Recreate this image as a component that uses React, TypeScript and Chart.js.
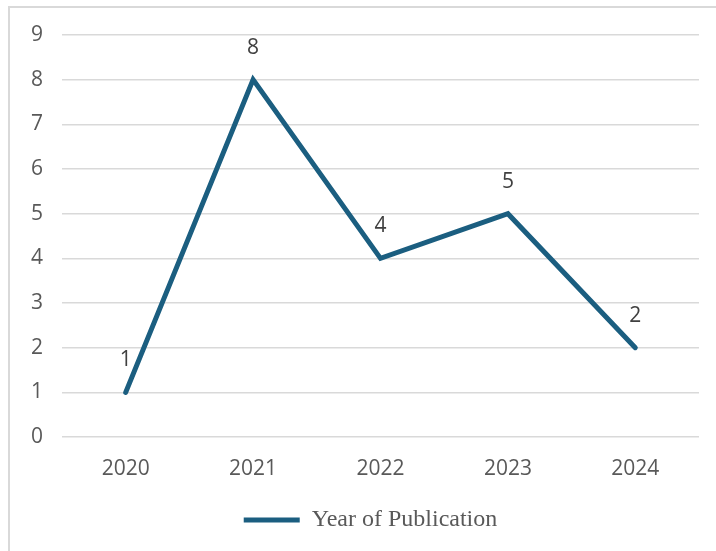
import React, { useEffect, useRef } from "react";
import { Chart, registerables } from "chart.js";

Chart.register(...registerables);

const categories = ["2020", "2021", "2022", "2023", "2024"];
const seriesName = "Year of Publication";
const publications = [1, 8, 4, 5, 2];
const yTicks = [0, 1, 2, 3, 4, 5, 6, 7, 8, 9];

const LINE = "#1b5e80";
const GRID = "#d9d9d9";
const TICK = "#595959";

const dataLabels = {
  id: "dataLabels",
  afterDatasetsDraw(chart: any) {
    const ctx = chart.ctx;
    ctx.save();
    ctx.font = "21px 'Open Sans'";
    ctx.fillStyle = "#404040";
    ctx.textAlign = "center";
    ctx.textBaseline = "middle";
    chart.data.datasets.forEach((ds: any, i: number) => {
      const meta = chart.getDatasetMeta(i);
      meta.data.forEach((pt: any, j: number) => {
        ctx.fillText(String(ds.data[j]), pt.x, pt.y - 32);
      });
    });
    ctx.restore();
  },
};

export default function App() {
  const ref = useRef<HTMLCanvasElement>(null);
  useEffect(() => {
    if (!ref.current) return;
    const chart = new Chart(ref.current, {
      type: "line",
      data: {
        labels: categories,
        datasets: [
          {
            label: seriesName,
            data: publications,
            borderColor: LINE,
            backgroundColor: LINE,
            borderWidth: 5,
            borderCapStyle: "round",
            borderJoinStyle: "miter",
            pointRadius: 0,
            pointStyle: "line",
            tension: 0,
          },
        ],
      },
      options: {
        animation: false,
        responsive: false,
        maintainAspectRatio: false,
        layout: { padding: { left: 21, right: 0, top: 27, bottom: 9 } },
        plugins: {
          tooltip: { enabled: false },
          legend: {
            position: "bottom",
            labels: {
              usePointStyle: true,
              pointStyleWidth: 56,
              padding: 10,
              color: TICK,
              font: { family: "'Liberation Serif'", size: 24 },
            },
          },
        },
        scales: {
          x: {
            offset: true,
            grid: { display: false, drawTicks: false },
            border: { display: false },
            ticks: {
              color: TICK,
              padding: 19,
              font: { family: "'Open Sans'", size: 21 },
            },
            afterFit: (s: any) => {
              s.height = 61;
            },
          },
          y: {
            min: 0,
            max: 9,
            afterBuildTicks: (s: any) => {
              s.ticks = yTicks.map((v) => ({ value: v }));
            },
            grid: { color: GRID, lineWidth: 1.5, drawTicks: false },
            border: { display: false },
            ticks: {
              color: TICK,
              padding: 0,
              crossAlign: "far",
              font: { family: "'Open Sans'", size: 21 },
            },
            afterFit: (s: any) => {
              s.width = 31;
            },
          },
          yR: {
            position: "right",
            display: true,
            grid: { display: false, drawTicks: false },
            border: { display: false },
            ticks: { display: false },
            afterFit: (s: any) => {
              s.width = 11;
            },
          },
        },
      },
      plugins: [dataLabels],
    } as any);
    return () => chart.destroy();
  }, []);

  return (
    <div
      style={{
        position: "fixed",
        left: 8,
        top: 6,
        width: 708,
        height: 545,
        overflow: "hidden",
        borderLeft: "2px solid #d9d9d9",
        borderTop: "2px solid #d9d9d9",
        background: "#fff",
      }}
    >
      <canvas ref={ref} width={700} height={543} style={{ display: "block", width: 700, height: 543 }} />
    </div>
  );
}
